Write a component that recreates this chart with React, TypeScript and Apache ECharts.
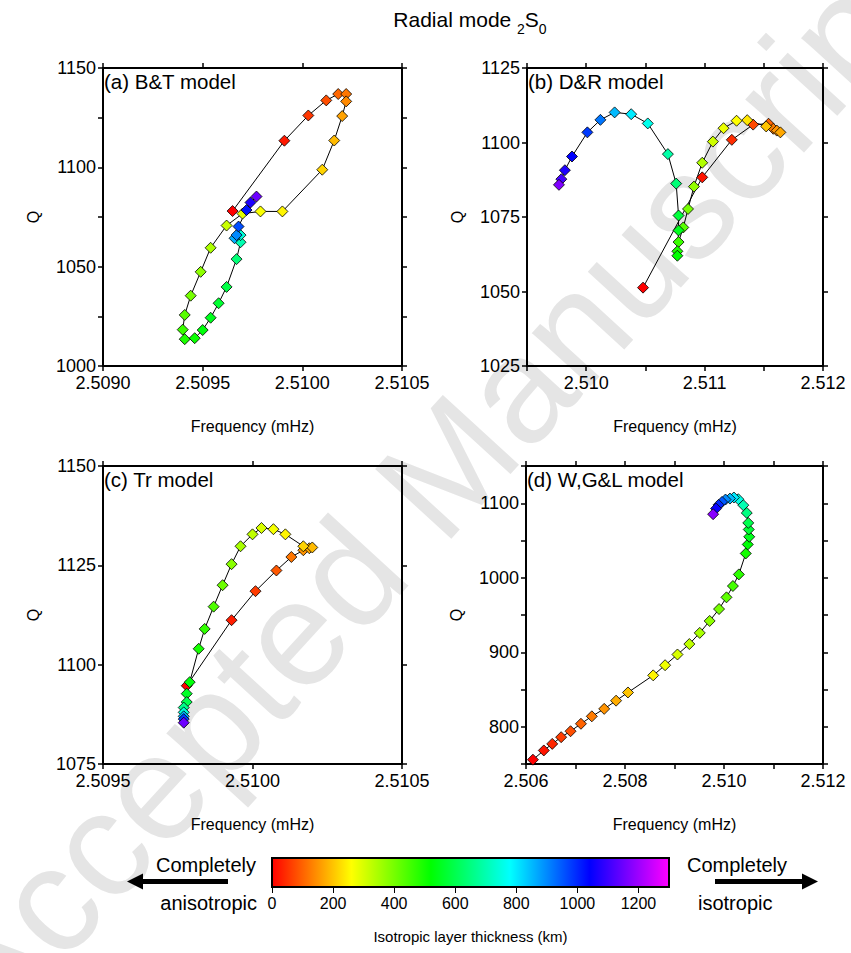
import React, { useEffect, useRef } from 'react';
import * as echarts from 'echarts';

const W = 851;
const H = 953;
const FONT = 'Liberation Sans, Arial, Helvetica, sans-serif';

// (a) B&T model: frequency (mHz), Q and isotropic layer thickness (km) of each model
const freqA = [2.50965, 2.50991, 2.51003, 2.51012, 2.51018, 2.51022, 2.51022, 2.5102, 2.51016, 2.5101, 2.5099, 2.50979, 2.5097, 2.50962, 2.50954, 2.50949, 2.50944, 2.50941, 2.5094, 2.50941, 2.50946, 2.5095, 2.50954, 2.50958, 2.50962, 2.50967, 2.50969, 2.50969, 2.50966, 2.50967, 2.50968, 2.50972, 2.50974, 2.50977];
const qA = [1078.0, 1113.4, 1126.1, 1133.7, 1136.9, 1136.9, 1133.2, 1125.8, 1113.5, 1098.8, 1077.8, 1077.8, 1076.7, 1070.7, 1059.5, 1047.4, 1035.4, 1025.7, 1018.3, 1013.5, 1014.0, 1018.1, 1024.3, 1031.6, 1039.8, 1053.8, 1062.3, 1065.9, 1064.3, 1065.9, 1070.2, 1078.5, 1082.3, 1085.3];
const thickA = [0, 25, 55, 80, 105, 120, 140, 165, 190, 215, 250, 265, 290, 315, 345, 375, 400, 430, 460, 490, 510, 530, 550, 570, 590, 640, 700, 740, 860, 900, 960, 1020, 1070, 1150];

// (b) D&R model
const freqB = [2.51048, 2.51098, 2.51123, 2.51141, 2.51154, 2.51158, 2.51161, 2.51164, 2.51152, 2.51136, 2.51127, 2.51116, 2.51107, 2.51098, 2.51091, 2.51086, 2.51082, 2.51078, 2.51077, 2.51077, 2.51078, 2.51078, 2.51076, 2.51069, 2.51052, 2.51038, 2.51024, 2.51012, 2.51001, 2.50988, 2.50982, 2.50979, 2.50977];
const qB = [1051.3, 1088.3, 1100.9, 1106.0, 1106.3, 1104.6, 1104.0, 1103.4, 1105.4, 1107.5, 1107.3, 1104.8, 1100.3, 1093.2, 1085.2, 1077.7, 1071.5, 1066.6, 1063.5, 1062.0, 1070.5, 1075.5, 1086.2, 1096.1, 1106.4, 1109.5, 1110.1, 1107.6, 1103.4, 1095.3, 1090.7, 1087.7, 1085.8];
const thickB = [0, 20, 45, 75, 100, 125, 150, 170, 200, 235, 260, 280, 310, 340, 370, 400, 430, 460, 490, 520, 550, 580, 640, 690, 760, 800, 850, 920, 980, 1040, 1070, 1110, 1170];

// (c) Tr model
const freqC = [2.50978, 2.50993, 2.51001, 2.51008, 2.51013, 2.51017, 2.51019, 2.5102, 2.51017, 2.51011, 2.51007, 2.51003, 2.51, 2.50996, 2.50993, 2.5099, 2.50987, 2.50984, 2.50982, 2.50979, 2.50978, 2.50978, 2.50977, 2.50977, 2.50977, 2.50977, 2.50977];
const qC = [1094.7, 1111.2, 1118.5, 1123.7, 1127.1, 1128.8, 1129.3, 1129.5, 1129.8, 1132.8, 1134.1, 1134.4, 1132.8, 1129.8, 1125.3, 1120.0, 1114.6, 1109.0, 1104.0, 1095.6, 1092.7, 1090.6, 1089.2, 1088.0, 1087.0, 1086.3, 1085.4];
const thickC = [0, 30, 60, 90, 120, 150, 170, 190, 215, 250, 270, 300, 325, 350, 380, 410, 440, 470, 500, 530, 560, 600, 660, 740, 850, 980, 1150];

// (d) W,G&L model
const freqD = [2.50614, 2.50636, 2.50653, 2.50671, 2.5069, 2.50711, 2.50733, 2.50758, 2.50782, 2.50806, 2.50857, 2.50881, 2.50906, 2.5093, 2.50951, 2.50971, 2.5099, 2.51005, 2.51018, 2.5103, 2.51044, 2.51048, 2.51051, 2.5105, 2.51049, 2.51046, 2.51039, 2.51029, 2.5102, 2.51012, 2.51003, 2.50996, 2.50989, 2.50984, 2.50978];
const qD = [755.8, 768.2, 777.0, 786.0, 794.0, 804.0, 814.0, 824.0, 835.0, 846.0, 869.0, 882.6, 897.0, 911.0, 926.0, 942.0, 958.0, 973.7, 988.9, 1004.5, 1032.6, 1044.7, 1055.0, 1064.8, 1073.6, 1087.0, 1097.4, 1105.4, 1107.7, 1106.3, 1105.0, 1101.8, 1097.8, 1092.9, 1085.3];
const thickD = [0, 20, 40, 60, 80, 100, 125, 150, 175, 200, 250, 275, 300, 325, 350, 375, 400, 425, 450, 475, 500, 525, 550, 575, 600, 650, 700, 750, 800, 850, 900, 950, 1000, 1050, 1180];

const panelLabels = ['(a) B&T model', '(b) D&R model', '(c) Tr model', '(d) W,G&L model'];

// Axis ranges: [min, max, tick interval, label step, decimals]
const xRanges = [
  [2.509, 2.5105, 0.0005, 0.0005, 4],
  [2.5095, 2.512, 0.0005, 0.001, 3],
  [2.5095, 2.5105, 0.0005, 0.0005, 4],
  [2.506, 2.512, 0.001, 0.002, 3],
];
const yRanges = [
  [1000, 1150, 25, 50, 0],
  [1025, 1125, 25, 25, 0],
  [1075, 1150, 25, 25, 0],
  [750, 1150, 50, 100, 0],
];

// Colour scale for the isotropic layer thickness (km)
const thicknessMin = 0;
const thicknessMax = 1300;
const thicknessStep = 200;
const rainbow = ['#ff0000', '#ffff00', '#00ff00', '#00ffff', '#0000ff', '#ff00ff'];

const freqs = [freqA, freqB, freqC, freqD];
const qs = [qA, qB, qC, qD];
const thicks = [thickA, thickB, thickC, thickD];

const grids = [
  { left: 103, top: 68, width: 299, height: 298 },
  { left: 527, top: 68, width: 296, height: 298 },
  { left: 103, top: 466, width: 299, height: 298 },
  { left: 526, top: 466, width: 297, height: 298 },
];

const onStep = (v: number, step: number) => Math.abs(v / step - Math.round(v / step)) < 1e-6;

function frameAxes(kind: 'x' | 'y', gridIndex: number, r: number[], name: string) {
  const [min, max, interval, labelStep, dec] = r;
  const line = { show: true, onZero: false, lineStyle: { color: '#000', width: 2 } };
  const tick = { show: true, inside: false, length: 5, lineStyle: { color: '#000', width: 1.5 } };
  const base = { type: 'value', gridIndex, min, max, interval, axisLine: line, axisTick: tick, splitLine: { show: false } };
  const main = {
    ...base,
    position: kind === 'x' ? 'bottom' : 'left',
    name,
    nameLocation: 'middle',
    nameGap: kind === 'x' ? 52 : 62,
    nameRotate: kind === 'x' ? 0 : 90,
    nameTextStyle: { color: '#000', fontSize: 16, fontFamily: FONT },
    axisLabel: {
      show: true,
      color: '#000',
      fontSize: 18,
      fontFamily: FONT,
      margin: kind === 'x' ? 8 : 7,
      showMinLabel: true,
      showMaxLabel: true,
      formatter: (v: number) => (onStep(v, labelStep) ? v.toFixed(dec) : ''),
    },
  };
  const mirror = { ...base, position: kind === 'x' ? 'top' : 'right', axisLabel: { show: false } };
  return [main, mirror];
}

function buildOption() {
  const xAxis: any[] = [];
  const yAxis: any[] = [];
  const series: any[] = [];
  const scatterIdx: number[] = [];
  grids.forEach((_, i) => {
    xAxis.push(...frameAxes('x', i, xRanges[i], 'Frequency (mHz)'));
    yAxis.push(...frameAxes('y', i, yRanges[i], 'Q'));
    const ax = i * 2;
    series.push({
      type: 'line',
      xAxisIndex: ax,
      yAxisIndex: ax,
      data: freqs[i].map((f, k) => [f, qs[i][k]]),
      symbol: 'none',
      lineStyle: { color: '#000', width: 1 },
      z: 2,
      silent: true,
    });
    scatterIdx.push(series.length);
    series.push({
      type: 'scatter',
      xAxisIndex: ax,
      yAxisIndex: ax,
      data: freqs[i].map((f, k) => [f, qs[i][k], thicks[i][k]]),
      symbol: 'diamond',
      symbolSize: 11,
      itemStyle: { borderColor: '#000', borderWidth: 0.8, opacity: 1 },
      z: 3,
    });
  });

  // colour bar
  const barGrid = {
    left: 272,
    top: 858,
    width: 397,
    height: 29,
    show: true,
    borderColor: '#000',
    borderWidth: 2,
    backgroundColor: new echarts.graphic.LinearGradient(
      0, 0, 1, 0,
      rainbow.map((c, i) => ({ offset: i / (rainbow.length - 1), color: c }))
    ),
  };
  xAxis.push({
    type: 'value',
    gridIndex: 4,
    min: thicknessMin,
    max: thicknessMax,
    interval: thicknessStep,
    position: 'bottom',
    axisLine: { show: false },
    axisTick: { show: true, inside: false, length: 6, lineStyle: { color: '#000', width: 1 } },
    splitLine: { show: false },
    axisLabel: {
      color: '#000',
      fontSize: 16,
      fontFamily: FONT,
      margin: 8,
      showMaxLabel: false,
      formatter: (v: number) => String(v),
    },
    name: 'Isotropic layer thickness (km)',
    nameLocation: 'middle',
    nameGap: 42,
    nameTextStyle: { color: '#000', fontSize: 15, fontFamily: FONT },
  });
  yAxis.push({ type: 'value', gridIndex: 4, show: false, min: 0, max: 1 });

  const sideText = (text: string, x: number, y: number, align: string) => ({
    type: 'text',
    x,
    y,
    style: { text, fontSize: 20, fontFamily: FONT, fill: '#000', align, verticalAlign: 'middle' },
  });

  const graphic: any[] = [
    {
      type: 'text',
      x: -45,
      y: 1005,
      rotation: (47.6 * Math.PI) / 180,
      silent: true,
      z: -10,
      style: {
        text: 'Accepted Manuscript',
        fontSize: 150,
        fontFamily: FONT,
        fill: '#e5e5e5',
        align: 'left',
        verticalAlign: 'middle',
      },
    },
    {
      type: 'text',
      x: 470,
      y: 9,
      style: {
        text: '{m|Radial mode }{s|2}{m|S}{s|0}',
        fill: '#000',
        fontFamily: FONT,
        align: 'center',
        rich: {
          m: { fontSize: 21, lineHeight: 27, verticalAlign: 'top', fontFamily: FONT, fill: '#000' },
          s: { fontSize: 14, lineHeight: 14, verticalAlign: 'bottom', fontFamily: FONT, fill: '#000' },
        },
      },
    },
    ...grids.map((g, i) => ({
      type: 'text',
      x: g.left + 1,
      y: g.top + 3,
      style: { text: panelLabels[i], fontSize: 20.5, fontFamily: FONT, fill: '#000' },
      z: 5,
    })),
    sideText('Completely', 256, 865, 'right'),
    sideText('anisotropic', 257, 903, 'right'),
    sideText('Completely', 687, 865, 'left'),
    sideText('isotropic', 698, 903, 'left'),
    // arrows
    { type: 'rect', shape: { x: 142, y: 879, width: 86, height: 5 }, style: { fill: '#000' } },
    { type: 'polygon', shape: { points: [[127, 881.5], [143, 873.5], [143, 889.5]] }, style: { fill: '#000' } },
    { type: 'rect', shape: { x: 715, y: 879, width: 88, height: 5 }, style: { fill: '#000' } },
    { type: 'polygon', shape: { points: [[818, 881.5], [802, 873.5], [802, 889.5]] }, style: { fill: '#000' } },
  ];

  return {
    animation: false,
    backgroundColor: '#fff',
    grid: [...grids.map((g) => ({ ...g, containLabel: false })), barGrid],
    xAxis,
    yAxis,
    visualMap: {
      type: 'continuous',
      show: false,
      min: thicknessMin,
      max: thicknessMax,
      dimension: 2,
      seriesIndex: scatterIdx,
      inRange: { color: rainbow },
    },
    series,
    graphic,
  };
}

export default function App() {
  const ref = useRef<HTMLDivElement>(null);
  useEffect(() => {
    if (!ref.current) return;
    const chart = echarts.init(ref.current, null, { renderer: 'svg', width: W, height: H });
    chart.setOption(buildOption() as any);
    return () => chart.dispose();
  }, []);
  return (
    <div
      ref={ref}
      style={{ position: 'absolute', left: 0, top: 0, width: W, height: H, background: '#fff' }}
    />
  );
}
